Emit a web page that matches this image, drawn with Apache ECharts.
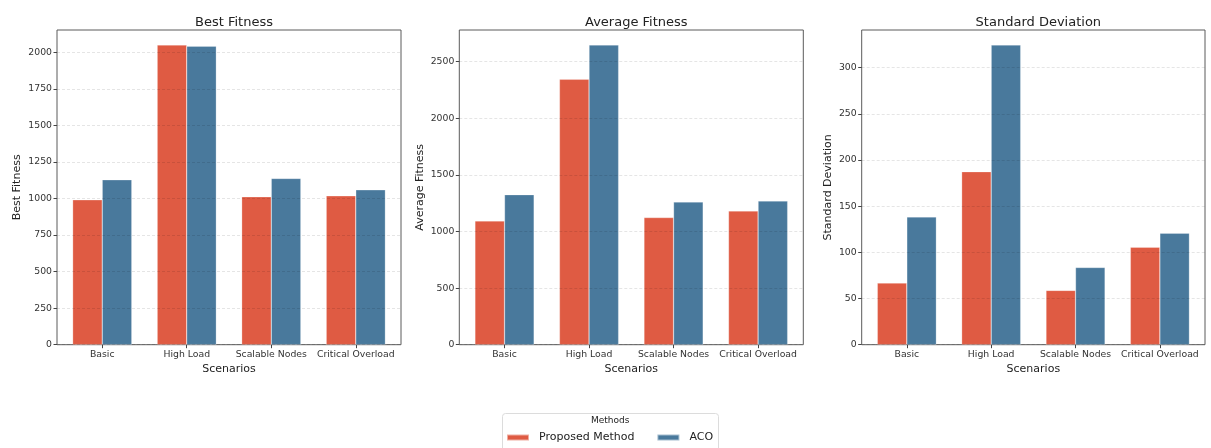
<!DOCTYPE html>
<html>
<head>
<meta charset="utf-8">
<title>Best Fitness, Average Fitness and Standard Deviation by Scenario</title>
<script src="https://cdn.jsdelivr.net/npm/echarts@6/dist/echarts.min.js"></script>
<style>
  html, body { margin: 0; padding: 0; background: #fff; }
  #chart { width: 1211px; height: 448px; }
</style>
</head>
<body>
<div id="chart"></div>
<script>
// Scenario categories and the two compared methods
const scenarios = ['Basic', 'High Load', 'Scalable Nodes', 'Critical Overload'];
const methods = ['Proposed Method', 'ACO'];

// Best fitness per scenario
const bestProposed = [991, 2050, 1012, 1018];
const bestAco = [1128, 2042, 1137, 1059];

// Average fitness per scenario
const avgProposed = [1093, 2344, 1123, 1181];
const avgAco = [1325, 2647, 1260, 1269];

// Standard deviation per scenario
const sdProposed = [66.7, 187.3, 58.8, 105.5];
const sdAco = [138.3, 324.5, 83.6, 120.7];

// Y tick values per panel
const bestTicks = [0, 250, 500, 750, 1000, 1250, 1500, 1750, 2000];
const avgTicks = [0, 500, 1000, 1500, 2000, 2500];
const sdTicks = [0, 50, 100, 150, 200, 250, 300];

const panelTitles = ['Best Fitness', 'Average Fitness', 'Standard Deviation'];
const colors = ['#df5b43', '#49799c'];
const FONT = 'DejaVu Sans';

const panels = [
  { title: panelTitles[0], a: bestProposed, b: bestAco, ticks: bestTicks, left: 57, width: 344, nameGap: 34.5 },
  { title: panelTitles[1], a: avgProposed, b: avgAco, ticks: avgTicks, left: 459.3, width: 344, nameGap: 34 },
  { title: panelTitles[2], a: sdProposed, b: sdAco, ticks: sdTicks, left: 861.7, width: 343.3, nameGap: 28 }
];

const TOP = 30, HEIGHT = 314.7;
const BAR_W = 0.35;                 // bar width in category units
const nCat = scenarios.length;

const grid = [], xAxis = [], yAxis = [], series = [], title = [];

panels.forEach((p, i) => {
  // Axis limits: 5% margin around the bars horizontally, 5% headroom on top
  const ymax = Math.max(...p.a, ...p.b) * 1.05;
  const span = (nCat - 1) + 2 * BAR_W;
  const xlo = -BAR_W - 0.05 * span;
  const xhi = (nCat - 1) + BAR_W + 0.05 * span;
  const pxPerUnit = p.width / (xhi - xlo);
  const dataLeft = p.left + (-0.5 - xlo) * pxPerUnit;
  const dataWidth = nCat * pxPerUnit;
  const step = p.ticks[1] - p.ticks[0];

  // Frame grid: border box, y ticks and gridlines
  grid.push({
    left: p.left, top: TOP, width: p.width, height: HEIGHT,
    show: true, borderColor: '#5a5a5a', borderWidth: 1, backgroundColor: 'transparent'
  });
  // Data grid: category bands that carry the bars
  grid.push({ left: dataLeft, top: TOP, width: dataWidth, height: HEIGHT });

  const fg = 2 * i, dg = 2 * i + 1;

  xAxis.push({ gridIndex: fg, type: 'value', min: 0, max: 1, show: false });
  xAxis.push({
    gridIndex: dg, type: 'category', data: scenarios,
    axisLine: { show: false },
    axisTick: { show: true, alignWithLabel: true, length: 3.5, lineStyle: { color: '#444' } },
    axisLabel: { color: '#333', fontFamily: FONT, fontSize: 9.3, margin: 5, interval: 0 },
    name: 'Scenarios', nameLocation: 'middle', nameGap: 19,
    nameTextStyle: { color: '#222', fontFamily: FONT, fontSize: 11 }
  });

  yAxis.push({
    gridIndex: fg, type: 'value', min: 0, max: ymax, interval: step, z: 3,
    axisLine: { show: false },
    axisTick: { show: true, length: 3.5, lineStyle: { color: '#444' }, customValues: p.ticks },
    axisLabel: {
      color: '#333', fontFamily: FONT, fontSize: 9.3, margin: 5,
      showMaxLabel: false,
      formatter: v => String(v)
    },
    splitLine: { show: true, lineStyle: { color: 'rgba(0,0,0,0.13)', type: [3, 2], width: 0.8 } },
    name: p.title, nameLocation: 'middle', nameGap: p.nameGap,
    nameTextStyle: { color: '#222', fontFamily: FONT, fontSize: 11 }
  });
  yAxis.push({ gridIndex: dg, type: 'value', min: 0, max: ymax, show: false });

  [p.a, p.b].forEach((vals, k) => {
    series.push({
      type: 'bar', name: methods[k], xAxisIndex: dg, yAxisIndex: dg,
      data: vals, barWidth: (BAR_W * 100) + '%', barGap: '0%',
      itemStyle: { color: colors[k], borderColor: 'rgba(255,255,255,0.5)', borderWidth: 0.5 },
      emphasis: { disabled: true }
    });
  });

  title.push({
    text: p.title, left: p.left + p.width / 2, top: 11, textAlign: 'center',
    textStyle: { color: '#222', fontFamily: FONT, fontSize: 13, fontWeight: 'normal' }
  });
});

const option = {
  animation: false,
  backgroundColor: '#fff',
  title,
  grid, xAxis, yAxis, series,
  legend: {
    data: methods,
    left: 506, top: 432, padding: 0,
    icon: 'rect', itemWidth: 22, itemHeight: 6, itemGap: 22,
    textStyle: { color: '#222', fontFamily: FONT, fontSize: 11, padding: [0, 0, 0, 5] },
    selectedMode: false
  },
  graphic: [
    {
      type: 'rect', z: -1,
      shape: { x: 502.5, y: 413.5, width: 216, height: 44, r: 3 },
      style: { fill: '#fff', stroke: '#dcdcdc', lineWidth: 1 }
    },
    {
      type: 'text', left: 610 - 19, top: 416,
      style: { text: 'Methods', fill: '#222', font: '9px "DejaVu Sans"' }
    }
  ]
};

const chart = echarts.init(document.getElementById('chart'), null, { renderer: 'canvas' });
chart.setOption(option);
</script>
</body>
</html>
